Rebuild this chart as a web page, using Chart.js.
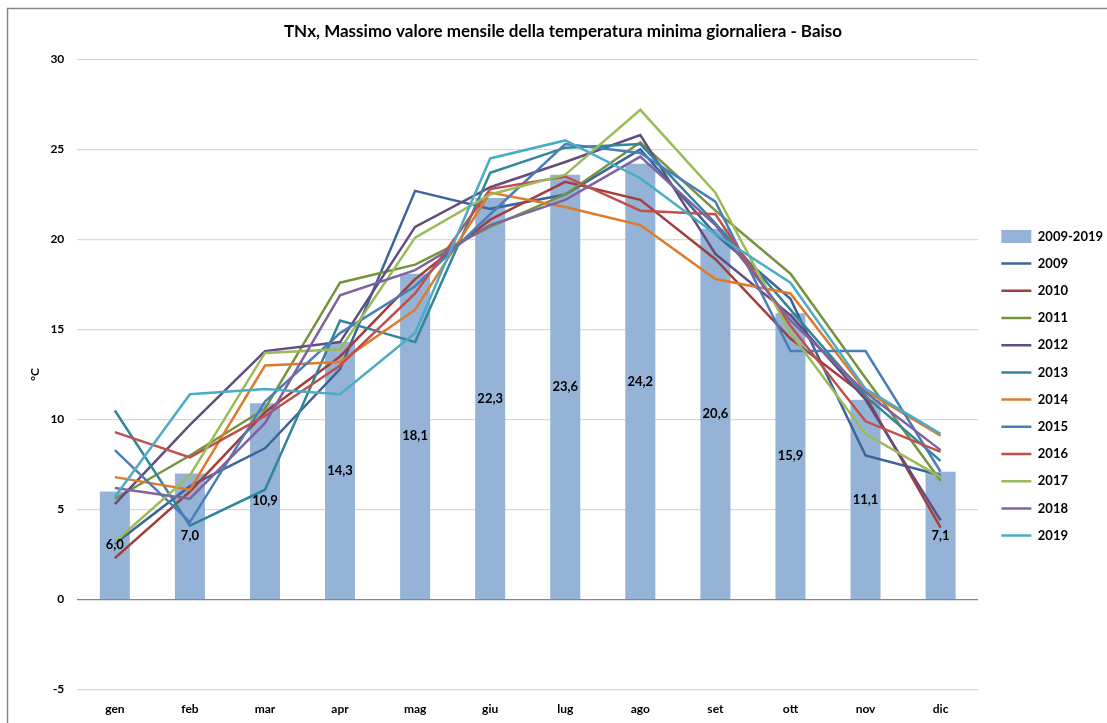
<!DOCTYPE html>
<html>
<head>
<meta charset="utf-8">
<script src="https://cdn.jsdelivr.net/npm/chart.js@4"></script>
<style>
  html, body { margin: 0; padding: 0; background: #fff; }
  #wrap { width: 1107px; height: 723px; }
</style>
</head>
<body>
<div id="wrap"><canvas id="tnx"></canvas></div>
<script>
const months = ['gen', 'feb', 'mar', 'apr', 'mag', 'giu', 'lug', 'ago', 'set', 'ott', 'nov', 'dic'];
const yTicks = [-5, 0, 5, 10, 15, 20, 25, 30];

// media 2009-2019 (barre)
const avg = [6.0, 7.0, 10.9, 14.3, 18.1, 22.3, 23.6, 24.2, 20.6, 15.9, 11.1, 7.1];

// singoli anni
const y2009 = [3.1, 6.3, 8.4, 12.8, 22.7, 21.7, 22.5, 25.0, 20.3, 16.7, 8.0, 6.9];
const y2010 = [2.3, 6.0, 10.4, 13.5, 17.8, 21.1, 23.2, 22.2, 18.9, 14.5, 11.3, 4.0];
const y2011 = [5.6, 8.0, 10.6, 17.6, 18.6, 20.7, 22.5, 25.4, 21.6, 18.1, 12.3, 6.6];
const y2012 = [5.3, 9.7, 13.8, 14.3, 20.7, 22.9, 24.3, 25.8, 19.2, 15.8, 11.1, 4.4];
const y2013 = [10.5, 4.1, 6.1, 15.5, 14.3, 23.7, 25.1, 25.3, 20.9, 16.1, 11.3, 7.7];
const y2014 = [6.8, 6.1, 13.0, 13.2, 16.1, 22.6, 21.8, 20.8, 17.8, 17.0, 11.6, 9.1];
const y2015 = [8.3, 4.3, 11.0, 14.8, 17.4, 21.4, 25.3, 24.8, 22.1, 13.8, 13.8, 7.1];
const y2016 = [9.3, 7.9, 10.2, 13.0, 17.0, 22.8, 23.5, 21.6, 21.4, 15.2, 9.9, 8.2];
const y2017 = [3.2, 6.9, 13.7, 13.9, 20.1, 22.5, 23.6, 27.2, 22.6, 14.8, 9.2, 6.8];
const y2018 = [6.2, 5.6, 9.8, 16.9, 18.3, 20.8, 22.2, 24.6, 20.8, 15.5, 11.5, 8.3];
const y2019 = [5.7, 11.4, 11.7, 11.4, 14.8, 24.5, 25.5, 23.4, 20.3, 17.6, 11.7, 9.2];

const years = [
  ['2009', y2009, '#3b659a'],
  ['2010', y2010, '#a23f3c'],
  ['2011', y2011, '#77933c'],
  ['2012', y2012, '#634c80'],
  ['2013', y2013, '#31859c'],
  ['2014', y2014, '#de7a2c'],
  ['2015', y2015, '#4a7ebb'],
  ['2016', y2016, '#c0504d'],
  ['2017', y2017, '#9bbb59'],
  ['2018', y2018, '#7f63a1'],
  ['2019', y2019, '#4bacc6'],
];

const FONT = 'Lato, "Open Sans", sans-serif';

const datasets = [{
  type: 'bar',
  label: '2009-2019',
  data: avg,
  backgroundColor: '#95b3d7',
  borderWidth: 0,
  categoryPercentage: 0.4,
  barPercentage: 1,
  pointStyle: 'rect',
  order: 20,
}];
years.forEach(([name, vals, col], i) => {
  datasets.push({
    type: 'line',
    label: name,
    data: vals,
    borderColor: col,
    backgroundColor: col,
    borderWidth: 2.5,
    pointRadius: 0,
    tension: 0,
    fill: false,
    pointStyle: 'line',
    order: 12 - i,
  });
});

const frame = {
  id: 'frame',
  beforeDraw(chart) {
    const ctx = chart.ctx;
    ctx.save();
    ctx.fillStyle = '#fff';
    ctx.fillRect(0, 0, chart.width, chart.height);
    ctx.strokeStyle = '#868686';
    ctx.lineWidth = 1.5;
    ctx.beginPath();
    ctx.moveTo(7.5, chart.height);
    ctx.lineTo(7.5, 8.5);
    ctx.lineTo(chart.width, 8.5);
    ctx.stroke();
    ctx.restore();
  }
};

const barLabels = {
  id: 'barLabels',
  afterDatasetsDraw(chart) {
    const ctx = chart.ctx;
    const meta = chart.getDatasetMeta(0);
    ctx.save();
    ctx.font = 'bold 13px ' + FONT;
    ctx.fillStyle = '#000';
    ctx.textAlign = 'center';
    ctx.textBaseline = 'middle';
    meta.data.forEach((bar, i) => {
      ctx.fillText(avg[i].toFixed(1).replace('.', ','), bar.x, (bar.y + bar.base) / 2);
    });
    ctx.restore();
  }
};

// sposta la legenda dove sta nell'originale
const legendShift = {
  id: 'legendShift',
  afterLayout(chart) {
    chart.legend.top += 26;
    chart.legend.bottom += 26;
    chart.legend.left += 6;
    chart.legend.right += 6;
  }
};

new Chart(document.getElementById('tnx'), {
  data: { labels: months, datasets: datasets },
  options: {
    responsive: true,
    maintainAspectRatio: false,
    animation: false,
    layout: { padding: { left: 19, right: 0, top: 0, bottom: 3 } },
    plugins: {
      title: {
        display: true,
        text: 'TNx, Massimo valore mensile della temperatura minima giornaliera - Baiso',
        color: '#000',
        font: { family: FONT, size: 17, weight: 'bold' },
        padding: { top: 21, bottom: 18 },
      },
      legend: {
        position: 'right',
        labels: {
          usePointStyle: true,
          pointStyleWidth: 30,
          padding: 14.2,
          color: '#000',
          font: { family: FONT, size: 13, weight: 'bold' },
          sort: (a, b) => a.datasetIndex - b.datasetIndex,
        },
      },
      tooltip: { enabled: false },
    },
    scales: {
      x: {
        offset: true,
        grid: { display: false },
        border: { display: false },
        ticks: { color: '#000', padding: 4, font: { family: FONT, size: 12, weight: 'bold' } },
      },
      y: {
        min: -5,
        max: 30,
        afterBuildTicks(scale) { scale.ticks = yTicks.map(v => ({ value: v })); },
        grid: {
          drawTicks: false,
          lineWidth: 1.3,
          color: c => (c.tick && c.tick.value === 0 ? '#868686' : '#d9d9d9'),
        },
        border: { display: false },
        ticks: { color: '#000', padding: 13, font: { family: FONT, size: 12, weight: 'bold' } },
        title: {
          display: true,
          text: '°C',
          color: '#000',
          font: { family: FONT, size: 12, weight: 'bold' },
          padding: { top: 9, bottom: -5 },
        },
      },
      yPad: {
        position: 'right',
        display: true,
        grid: { display: false },
        border: { display: false },
        ticks: { display: false },
        afterFit(scale) { scale.width = 3; },
      },
    },
  },
  plugins: [frame, barLabels, legendShift],
});
</script>
</body>
</html>
